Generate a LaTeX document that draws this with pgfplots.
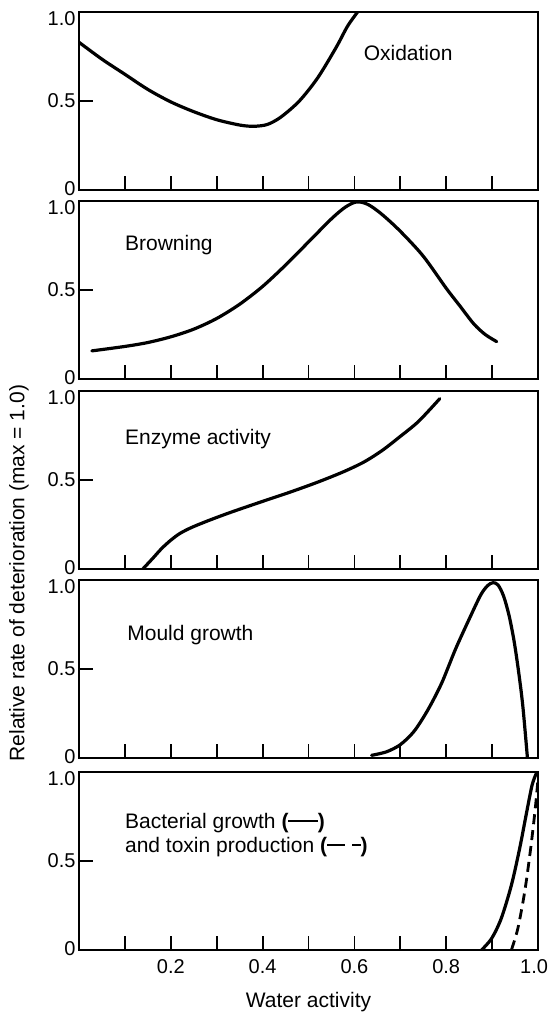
\documentclass[border=0pt]{standalone}
\usepackage{pgfplots}
\pgfplotsset{compat=1.18}
\usepackage{fontspec}
\setmainfont{Liberation Sans}

\pgfplotsset{
  panel/.style={
    scale only axis, width=459pt, height=178pt, anchor=north west,
    xmin=0, xmax=1, ymin=0, ymax=1,
    axis line style={line width=1.8pt},
    ytick={0,0.5,1},
    yticklabels={\raisebox{-5pt}[0pt][0pt]{0},0.5,\raisebox{-13pt}[0pt][0pt]{1.0}},
    xtick={0.1,0.2,0.3,0.4,0.5,0.6,0.7,0.8,0.9,1},
    xticklabels={},
    tick align=inside, xtick pos=bottom, ytick pos=left,
    major tick length=14pt,
    every tick/.style={black, line width=1.8pt},
    tick label style={font=\fontsize{20}{24}\selectfont},
    /pgf/number format/assume math mode=true,
  },
  curve/.style={black, line width=3.2pt, line cap=round, line join=round, smooth, no markers},
}
\tikzset{lab/.style={anchor=west, font=\fontsize{21}{23}\selectfont, inner sep=0pt}}

\begin{document}
\begin{tikzpicture}
\path[use as bounding box] (0pt,0pt) rectangle (549pt,-1013pt);

% Panel 1: Oxidation
\begin{axis}[panel, at={(79pt,-12pt)}]
\addplot[curve] coordinates {
(0,0.83) (0.05,0.735) (0.1,0.65) (0.15,0.565) (0.2,0.495) (0.25,0.44)
(0.3,0.395) (0.35,0.365) (0.38,0.358) (0.41,0.368) (0.44,0.41)
(0.48,0.5) (0.52,0.63) (0.56,0.8) (0.585,0.92) (0.607,1.0)};
\node[lab] at (axis cs:0.62,0.77) {Oxidation};
\end{axis}

% Panel 2: Browning
\begin{axis}[panel, at={(79pt,-201pt)}]
\addplot[curve] coordinates {
(0.028,0.158) (0.1,0.183) (0.15,0.205) (0.2,0.237) (0.25,0.28) (0.3,0.34)
(0.35,0.42) (0.4,0.52) (0.45,0.64) (0.5,0.77) (0.55,0.9) (0.58,0.965)
(0.605,0.995) (0.63,0.98) (0.66,0.925) (0.7,0.83) (0.75,0.69) (0.8,0.51)
(0.83,0.41) (0.86,0.31) (0.885,0.25) (0.91,0.21)};
\node[lab] at (axis cs:0.10,0.75) {Browning};
\end{axis}

% Panel 3: Enzyme activity
\begin{axis}[panel, at={(79pt,-391pt)}]
\addplot[curve] coordinates {
(0.139,0) (0.16,0.058) (0.18,0.115) (0.2,0.162) (0.22,0.2) (0.245,0.233)
(0.28,0.27) (0.33,0.318) (0.4,0.38) (0.46,0.432) (0.52,0.488) (0.575,0.545)
(0.62,0.6) (0.66,0.665) (0.7,0.745) (0.74,0.83) (0.786,0.957)};
\node[lab] at (axis cs:0.10,0.73) {Enzyme activity};
\end{axis}

% Panel 4: Mould growth
\begin{axis}[panel, at={(79pt,-580pt)}]
\addplot[curve] coordinates {
(0.6375,0.015) (0.67,0.035) (0.7,0.075) (0.73,0.15) (0.76,0.27) (0.79,0.42)
(0.82,0.61) (0.85,0.78) (0.875,0.915) (0.89,0.968) (0.902,0.985)
(0.913,0.972) (0.925,0.91) (0.937,0.8) (0.948,0.655) (0.958,0.48)
(0.967,0.29) (0.977,0.0)};
\node[lab] at (axis cs:0.105,0.69) {Mould growth};
\end{axis}

% Panel 5: Bacterial growth and toxin production
\begin{axis}[panel, at={(79pt,-772pt)},
  xticklabels={,0.2,,0.4,,0.6,,0.8,,\makebox[20pt][r]{1.0}},
  xticklabel style={yshift=-6pt},
  xlabel={Water activity},
  xlabel style={font=\fontsize{21}{23}\selectfont, yshift=-12pt},
]
\addplot[curve] coordinates {
(0.877,0) (0.899,0.065) (0.92,0.178) (0.942,0.364) (0.96,0.57)
(0.974,0.757) (0.987,0.925) (0.996,0.99)};
\addplot[curve, smooth, dash pattern=on 10pt off 6pt, line cap=butt, line width=2.8pt] coordinates {
(0.942,0) (0.956,0.12) (0.971,0.327) (0.984,0.57) (0.994,0.794) (1.0,0.96)};
\node[anchor=west, align=left, font=\fontsize{21}{24}\selectfont, inner sep=0pt]
  at (axis cs:0.10,0.645)
  {Bacterial growth {\bfseries(}\raisebox{0.3em}{\rule{1.4em}{2.4pt}}{\bfseries)}\\
   and toxin production {\bfseries(}\raisebox{0.3em}{\rule{0.85em}{2pt}}\hspace{0.35em}\raisebox{0.3em}{\rule{0.4em}{2pt}}{\bfseries)}};
\end{axis}

\node[rotate=90, font=\fontsize{21}{23}\selectfont, inner sep=0pt] at (19pt,-573pt)
  {Relative rate of deterioration (max = 1.0)};
\end{tikzpicture}
\end{document}
